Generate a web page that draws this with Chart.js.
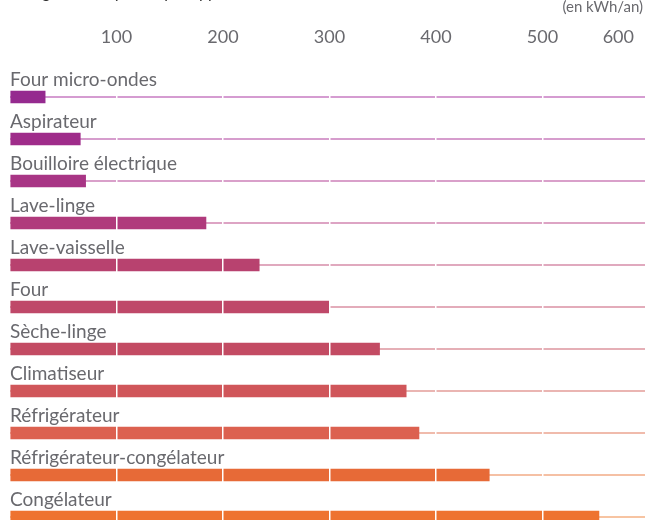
<!DOCTYPE html>
<html>
<head>
<meta charset="utf-8">
<script src="https://cdn.jsdelivr.net/npm/chart.js@4/dist/chart.umd.min.js"></script>
<style>
html, body { margin: 0; padding: 0; background: #fff; overflow: hidden; }
#wrap { position: relative; width: 660px; height: 545px; }
</style>
</head>
<body>
<div id="wrap"><canvas id="chart"></canvas></div>
<script>
const appareils = ['Four micro-ondes', 'Aspirateur', 'Bouilloire électrique', 'Lave-linge', 'Lave-vaisselle',
    'Four', 'Sèche-linge', 'Climatiseur', 'Réfrigérateur', 'Réfrigérateur-congélateur', 'Congélateur'];
const conso = [33, 66, 71, 184, 234, 300, 347, 372, 384, 450, 553];
const couleurs = ['#952a8f', '#9f2c8a', '#a83585', '#b03a7c', '#b8426f', '#bf4869',
    '#c34b63', '#d0565a', '#dc6150', '#e76a37', '#ee7330'];
const couleursLignes = ['#c77bc2', '#c97cbd', '#cd80b8', '#d286b1', '#d68ca8', '#da91a3',
    '#dc949e', '#e39c98', '#eba491', '#f2ab86', '#f5b083'];
const graduations = [100, 200, 300, 400, 500, 600];
const unite = '(en kWh/an)';
const titre = 'Énergie, en moyenne, par appareil';

const gris = '#69696e';

// fines lignes de fond derrière chaque barre
const lignes = {
    id: 'lignes',
    beforeDatasetsDraw(chart) {
        const ctx = chart.ctx, x = chart.scales.x, y = chart.scales.y;
        ctx.save();
        ctx.lineWidth = 1.5;
        appareils.forEach((a, i) => {
            const py = y.getPixelForValue(i);
            ctx.strokeStyle = couleursLignes[i];
            ctx.beginPath();
            ctx.moveTo(x.getPixelForValue(0), py);
            ctx.lineTo(chart.width, py);
            ctx.stroke();
        });
        ctx.restore();
    }
};

// noms des appareils, graduations et unité
const textes = {
    id: 'textes',
    afterDraw(chart) {
        const ctx = chart.ctx, x = chart.scales.x, y = chart.scales.y;
        ctx.save();
        ctx.fillStyle = gris;
        ctx.font = '19px Lato';
        ctx.textAlign = 'left';
        ctx.textBaseline = 'alphabetic';
        appareils.forEach((a, i) => {
            ctx.fillText(a, 10, y.getPixelForValue(i) - 11);
        });

        ctx.font = '18px Lato';
        ctx.textAlign = 'center';
        ctx.textBaseline = 'middle';
        graduations.forEach(v => {
            const w = ctx.measureText(String(v)).width;
            const px = Math.min(x.getPixelForValue(v), 634 - w / 2);
            ctx.fillText(String(v), px, 37);
        });

        ctx.font = '15px Lato';
        ctx.textAlign = 'right';
        ctx.textBaseline = 'alphabetic';
        ctx.fillText(unite, 643, 12);

        // titre coupé en haut de l'image, seules les jambages dépassent
        ctx.fillStyle = '#333';
        ctx.font = '16px Lato';
        ctx.textAlign = 'left';
        ctx.fillText(titre, 10, -2);
        ctx.restore();
    }
};

new Chart(document.getElementById('chart'), {
    type: 'bar',
    data: {
        labels: appareils,
        datasets: [{
            data: conso,
            backgroundColor: couleurs,
            barThickness: 12,
            borderWidth: 0
        }]
    },
    options: {
        indexAxis: 'y',
        responsive: true,
        maintainAspectRatio: false,
        animation: false,
        layout: { padding: { left: 10, right: 11, top: 76, bottom: 7 } },
        scales: {
            x: {
                min: 0,
                max: 600,
                border: { display: false },
                ticks: { display: false, stepSize: 100 },
                grid: {
                    z: 1,
                    drawTicks: false,
                    lineWidth: 1.5,
                    color: c => c.tick && c.tick.value === 0 ? 'rgba(0,0,0,0)' : '#ffffff'
                }
            },
            y: { display: false }
        },
        plugins: {
            legend: { display: false },
            tooltip: { enabled: false }
        }
    },
    plugins: [lignes, textes]
});
</script>
</body>
</html>
